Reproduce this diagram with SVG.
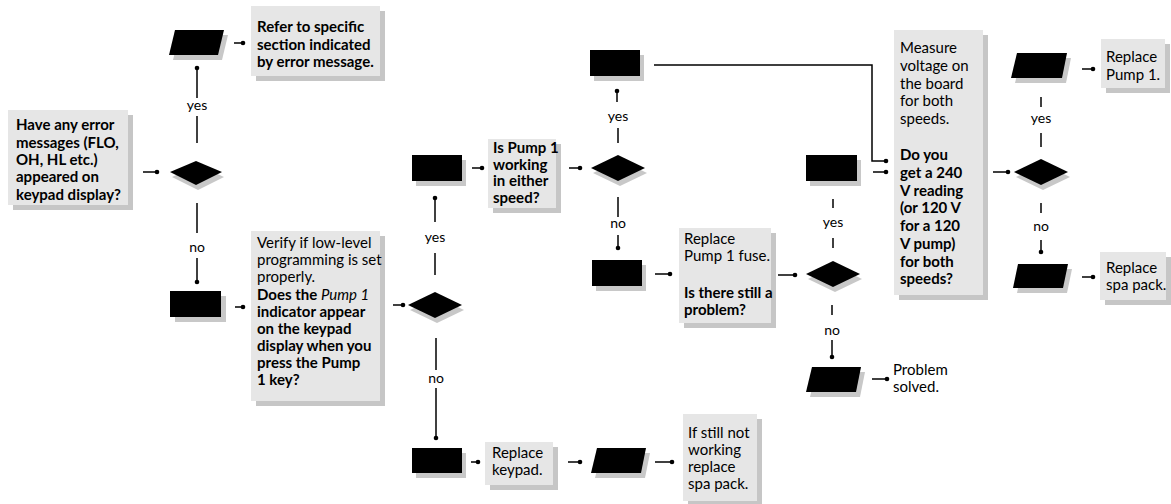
<svg xmlns="http://www.w3.org/2000/svg" width="1171" height="504" viewBox="0 0 1171 504">
<style>
.box{fill:#e6e6e6}
.bsh{fill:#c6c6c6}
.blk{fill:#000}
.sh{fill:#c8c8c8}
text{font-family:Lato,"Liberation Sans",sans-serif;font-size:15px;fill:#000}
.b{font-weight:bold}
.i{font-style:italic;font-weight:normal}
.lbl{font-size:14px;text-anchor:middle}
.ln{stroke:#000;stroke-width:1.5;fill:none}
</style>
<defs>
<marker id="dot" markerUnits="userSpaceOnUse" markerWidth="6" markerHeight="6" refX="3" refY="3" orient="auto">
<circle cx="3" cy="3" r="2.3" fill="#000"/>
</marker>
</defs>
<rect width="1171" height="504" fill="#fff"/>

<g id="connectors">
<path class="ln" d="M143,172H157" marker-end="url(#dot)"/>
<path class="ln" d="M197,143V116"/><path class="ln" d="M197,98V68" marker-end="url(#dot)"/>
<path class="ln" d="M234,43H243" marker-end="url(#dot)"/>
<path class="ln" d="M197,203V233"/><path class="ln" d="M197,258V282" marker-end="url(#dot)"/>
<path class="ln" d="M235,307H243" marker-end="url(#dot)"/>
<path class="ln" d="M393,305H403" marker-end="url(#dot)"/>
<path class="ln" d="M435,275V253"/><path class="ln" d="M435,222V198" marker-end="url(#dot)"/>
<path class="ln" d="M472,168H482" marker-end="url(#dot)"/>
<path class="ln" d="M569,168H580" marker-end="url(#dot)"/>
<path class="ln" d="M618,143V128"/><path class="ln" d="M617,102V91" marker-end="url(#dot)"/>
<path class="ln" d="M618,197V217"/><path class="ln" d="M618,235V248" marker-end="url(#dot)"/>
<path class="ln" d="M655,274H670" marker-end="url(#dot)"/>
<path class="ln" d="M778,275H795" marker-end="url(#dot)"/>
<path class="ln" d="M833,248V238"/><path class="ln" d="M833,208V199"/>
<path class="ln" d="M832,305V315"/><path class="ln" d="M832,340V357" marker-end="url(#dot)"/>
<path class="ln" d="M872,379H887" marker-end="url(#dot)"/>
<path class="ln" d="M654,65H872V161H886" marker-end="url(#dot)"/>
<path class="ln" d="M873,172H886" marker-end="url(#dot)"/>
<path class="ln" d="M993,172H1008" marker-end="url(#dot)"/>
<path class="ln" d="M1041,147V133"/><path class="ln" d="M1041,107V97"/>
<path class="ln" d="M1082,69H1093" marker-end="url(#dot)"/>
<path class="ln" d="M1041,203V213"/><path class="ln" d="M1041,240V252" marker-end="url(#dot)"/>
<path class="ln" d="M1082,277H1093" marker-end="url(#dot)"/>
<path class="ln" d="M436,338V370"/><path class="ln" d="M436,388V438" marker-end="url(#dot)"/>
<path class="ln" d="M471,462H478" marker-end="url(#dot)"/>
<path class="ln" d="M568,462H580" marker-end="url(#dot)"/>
<path class="ln" d="M655,462H672" marker-end="url(#dot)"/>
<text class="lbl" x="197" y="110">yes</text>
<text class="lbl" x="197" y="252">no</text>
<text class="lbl" x="435" y="242">yes</text>
<text class="lbl" x="436" y="383">no</text>
<text class="lbl" x="618" y="121">yes</text>
<text class="lbl" x="618" y="228">no</text>
<text class="lbl" x="833" y="227">yes</text>
<text class="lbl" x="832" y="335">no</text>
<text class="lbl" x="1041" y="123">yes</text>
<text class="lbl" x="1041" y="231">no</text>
</g>

<g id="q_error">
<rect class="bsh" x="13" y="115" width="120" height="95"/>
<rect class="box" x="8" y="110" width="120" height="95"/>
<text class="b" x="16" y="130">Have any error</text>
<text class="b" x="16" y="147.5">messages (FLO,</text>
<text class="b" x="16" y="165">OH, HL etc.)</text>
<text class="b" x="16" y="182">appeared on</text>
<text class="b" x="16" y="199.5">keypad display?</text>
</g>

<g id="d1">
<polygon class="sh" points="172,177 198,165 224,177 198,190"/>
<polygon class="blk" points="170,172 196,161 222,172 196,185"/>
</g>

<g id="p_yes1">
<polygon class="sh" points="179,35 228,35 222,60 173,60"/>
<polygon class="blk" points="175,30 224,30 218,55 169,55"/>
</g>

<g id="refer">
<rect class="bsh" x="256" y="11" width="129" height="70"/>
<rect class="box" x="251" y="6" width="129" height="70"/>
<text class="b" x="257" y="32">Refer to specific</text>
<text class="b" x="257" y="49.5">section indicated</text>
<text class="b" x="257" y="67">by error message.</text>
</g>

<g id="r_no1">
<rect class="sh" x="175" y="296" width="51" height="26"/>
<rect class="blk" x="170" y="291" width="51" height="26"/>
</g>

<g id="verify">
<rect class="bsh" x="256" y="236" width="129" height="170"/>
<rect class="box" x="251" y="231" width="129" height="170"/>
<text x="257" y="248">Verify if low-level</text>
<text x="257" y="265">programming is set</text>
<text x="257" y="282">properly.</text>
<text class="b" x="257" y="299.5">Does the <tspan class="i">Pump 1</tspan></text>
<text class="b" x="257" y="317">indicator appear</text>
<text class="b" x="257" y="334">on the keypad</text>
<text class="b" x="257" y="351">display when you</text>
<text class="b" x="257" y="368">press the Pump</text>
<text class="b" x="257" y="385">1 key?</text>
</g>

<g id="d2">
<polygon class="sh" points="410,310 437,297 464,310 437,323"/>
<polygon class="blk" points="408,305 435,292 462,305 435,318"/>
</g>

<g id="r_yes2">
<rect class="sh" x="416" y="160" width="50" height="26"/>
<rect class="blk" x="412" y="155" width="50" height="26"/>
</g>

<g id="q_pump_working">
<rect class="bsh" x="493" y="144" width="68" height="69"/>
<rect class="box" x="488" y="139" width="68" height="69"/>
<text class="b" x="493" y="153">Is Pump 1</text>
<text class="b" x="493" y="169.5">working</text>
<text class="b" x="493" y="186">in either</text>
<text class="b" x="493" y="202.5">speed?</text>
</g>

<g id="d3">
<polygon class="sh" points="593,173 620,160 647,173 620,186"/>
<polygon class="blk" points="591,168 618,155 645,168 618,181"/>
</g>

<g id="r_yes3">
<rect class="sh" x="594" y="55" width="50" height="26"/>
<rect class="blk" x="590" y="50" width="50" height="26"/>
</g>

<g id="r_no3">
<rect class="sh" x="596" y="265" width="50" height="26"/>
<rect class="blk" x="592" y="260" width="50" height="26"/>
</g>

<g id="fuse">
<rect class="bsh" x="684" y="233" width="92" height="95"/>
<rect class="box" x="679" y="228" width="92" height="95"/>
<text x="684" y="244">Replace</text>
<text x="684" y="261">Pump 1 fuse.</text>
<text class="b" x="684" y="298">Is there still a</text>
<text class="b" x="684" y="315">problem?</text>
</g>

<g id="d4">
<polygon class="sh" points="808,279 835,266 862,279 835,292"/>
<polygon class="blk" points="806,274 833,261 860,274 833,287"/>
</g>

<g id="r_yes4">
<rect class="sh" x="810" y="160" width="51" height="26"/>
<rect class="blk" x="806" y="155" width="51" height="26"/>
</g>

<g id="p_solved">
<polygon class="sh" points="816,372 865,372 860,397 810,397"/>
<polygon class="blk" points="812,367 861,367 856,392 806,392"/>
</g>

<g id="solved">
<text x="893" y="375">Problem</text>
<text x="893" y="392">solved.</text>
</g>

<g id="measure">
<rect class="bsh" x="899" y="35" width="89" height="265"/>
<rect class="box" x="894" y="30" width="89" height="265"/>
<text x="900" y="53">Measure</text>
<text x="900" y="71">voltage on</text>
<text x="900" y="88.5">the board</text>
<text x="900" y="106">for both</text>
<text x="900" y="124">speeds.</text>
<text class="b" x="900" y="160">Do you</text>
<text class="b" x="900" y="178">get a 240</text>
<text class="b" x="900" y="195.5">V reading</text>
<text class="b" x="900" y="213">(or 120 V</text>
<text class="b" x="900" y="231">for a 120</text>
<text class="b" x="900" y="248.5">V pump)</text>
<text class="b" x="900" y="266.5">for both</text>
<text class="b" x="900" y="284">speeds?</text>
</g>

<g id="d5">
<polygon class="sh" points="1016,177 1043,164 1070,177 1043,190"/>
<polygon class="blk" points="1014,172 1041,159 1068,172 1041,185"/>
</g>

<g id="p_yes5">
<polygon class="sh" points="1021,58 1071,58 1066,83 1015,83"/>
<polygon class="blk" points="1017,53 1067,53 1062,78 1011,78"/>
</g>

<g id="replace_pump">
<rect class="bsh" x="1106" y="44" width="64" height="49"/>
<rect class="box" x="1101" y="39" width="64" height="49"/>
<text x="1106" y="62">Replace</text>
<text x="1106" y="80">Pump 1.</text>
</g>

<g id="p_no5">
<polygon class="sh" points="1022,269 1072,269 1067,293 1017,293"/>
<polygon class="blk" points="1018,264 1068,264 1063,288 1013,288"/>
</g>

<g id="replace_spa">
<rect class="bsh" x="1105" y="257" width="66" height="48"/>
<rect class="box" x="1100" y="252" width="66" height="48"/>
<text x="1106" y="273">Replace</text>
<text x="1106" y="290">spa pack.</text>
</g>

<g id="r_no2">
<rect class="sh" x="416" y="453" width="50" height="25"/>
<rect class="blk" x="412" y="448" width="50" height="25"/>
</g>

<g id="replace_keypad">
<rect class="bsh" x="490" y="447" width="68" height="43"/>
<rect class="box" x="485" y="442" width="68" height="43"/>
<text x="492" y="458">Replace</text>
<text x="492" y="475">keypad.</text>
</g>

<g id="p_keypad">
<polygon class="sh" points="601,453 650,453 645,478 595,478"/>
<polygon class="blk" points="597,448 646,448 641,473 591,473"/>
</g>

<g id="still">
<rect class="bsh" x="688" y="419" width="74" height="85"/>
<rect class="box" x="683" y="414" width="74" height="87"/>
<text x="688" y="438">If still not</text>
<text x="688" y="455">working</text>
<text x="688" y="472">replace</text>
<text x="688" y="488.5">spa pack.</text>
</g>
</svg>
